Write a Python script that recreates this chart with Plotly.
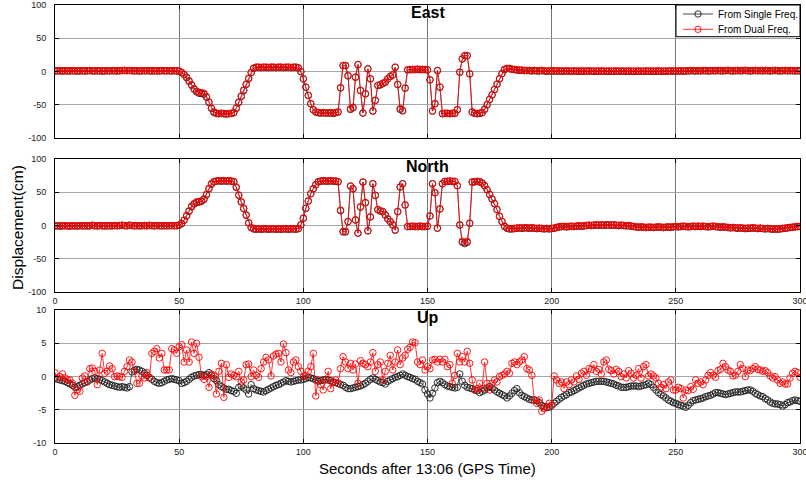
import plotly.graph_objects as go

# Time axis: one epoch per second after 13:06 GPS time
t = list(range(301))

# ---------------- East component (cm) ----------------
E_single = [
    0.5, 0.7, 0.6, 0.4, 0.8, 0.6, 0.5, 0.9, 0.6, 0.4,
    0.6, 0.8, 0.5, 0.7, 1.0, 0.6, 0.5, 0.8, 0.7, 0.4,
    0.5, 0.8, 0.6, 0.9, 0.7, 0.5, 0.8, 1.0, 1.2, 0.9,
    1.1, 0.8, 0.6, 0.8, 0.5, 0.7, 0.8, 0.9, 0.6, 0.5,
    0.8, 0.6, 0.5, 0.9, 0.7, 0.6, 0.8, 0.5, 0.9, 0.6,
    0.2, -2.0, -5.0, -9.5, -15.0, -21.0, -27.0, -31.0, -33.0, -33.5,
    -34.5, -39.0, -47.0, -56.0, -62.0, -63.5, -64.0, -63.5, -64.0, -64.5,
    -64.0, -63.5, -62.5, -56.0, -47.0, -38.0, -29.0, -20.0, -11.0, -2.0,
    4.5, 6.0, 6.0, 5.5, 6.0, 6.0, 5.5, 6.0, 6.0, 5.5,
    6.0, 6.0, 5.5, 6.0, 6.0, 5.5, 6.0, 6.0, 5.0, -0.5,
    -11.5, -24.0, -36.5, -49.0, -58.0, -61.5, -62.5, -63.0, -62.5, -63.0,
    -63.0, -62.5, -63.5, -62.5, -61.5, -25.0, 8.5, 8.5, -7.0, -57.5,
    -55.0, -9.0, 10.0, -29.0, -63.0, -34.0, 3.5, -11.5, -60.0, -44.0,
    -21.5, -20.5, -18.5, -16.5, -11.5, -8.0, -5.5, 6.0, -20.0, -57.5,
    -59.5, -25.5, 2.0, 2.5, 2.5, 2.5, 3.0, 2.5, 2.5, 2.5,
    2.0, -13.0, -60.0, -49.0, 1.0, -24.0, -64.0, -63.5, -63.5, -64.0,
    -63.5, -63.5, -58.0, -1.5, 18.5, 23.5, 23.5, -4.0, -61.5, -63.5,
    -64.0, -63.5, -62.5, -57.5, -50.5, -42.5, -35.5, -27.5, -19.5, -11.5,
    -3.5, 2.5, 4.0, 4.0, 3.0, 2.5, 2.0, 1.5, 1.5, 1.0,
    1.0, 1.0, 0.5, 1.0, 0.5, 0.5, 1.0, 0.5, 0.0, 0.5,
    0.3, 0.5, 0.2, 0.4, 0.1, 0.3, 0.5, 0.2, 0.1, 0.4,
    0.2, 0.0, 0.3, 0.1, 0.2, 0.4, 0.1, 0.0, 0.2, 0.1,
    0.3, 0.1, -0.1, 0.2, 0.0, 0.1, 0.3, 0.0, 0.2, 0.1,
    0.0, 0.2, 0.1, -0.1, 0.1, 0.2, 0.0, 0.1, 0.3, 0.1,
    0.2, 0.0, 0.1, 0.3, 0.1, 0.0, 0.2, 0.1, 0.4, 0.2,
    0.1, 0.3, 0.5, 0.2, 0.4, 0.6, 0.8, 0.6, 0.5, 0.7,
    0.6, 0.9, 0.7, 0.5, 0.6, 0.8, 0.6, 1.0, 0.7, 0.6,
    0.9, 1.1, 0.7, 0.5, 0.8, 1.0, 0.6, 0.9, 1.2, 0.7,
    0.5, 0.8, 1.1, 0.7, 0.9, 0.6, 1.0, 0.8, 0.5, 0.9,
    1.1, 0.7, 0.5, 0.8, 1.0, 0.6, 0.9, 0.7, 0.5, 0.8,
    0.6,
]
E_dual = [
    0.8, 1.0, 0.9, 0.7, 1.0, 0.8, 0.9, 1.1, 0.8, 0.7,
    0.9, 1.0, 0.8, 0.9, 1.2, 0.9, 0.8, 1.0, 0.9, 0.7,
    0.8, 1.0, 0.9, 1.1, 0.9, 0.8, 1.0, 1.3, 1.5, 1.2,
    1.4, 1.1, 0.9, 1.0, 0.8, 0.9, 1.0, 1.1, 0.9, 0.8,
    1.0, 0.9, 0.8, 1.1, 1.0, 0.9, 1.0, 0.8, 1.1, 0.9,
    0.5, -1.5, -4.5, -9.0, -14.0, -20.0, -26.0, -30.0, -31.5, -32.0,
    -33.0, -38.0, -46.0, -55.0, -61.0, -63.0, -63.5, -63.0, -63.5, -64.0,
    -63.5, -63.0, -62.0, -55.0, -46.0, -37.0, -28.0, -19.0, -10.0, -1.5,
    5.0, 6.5, 6.5, 6.0, 6.5, 6.5, 6.0, 6.5, 6.5, 6.0,
    6.5, 6.5, 6.0, 6.5, 6.5, 6.0, 6.5, 6.5, 5.5, 0.0,
    -11.0, -23.5, -36.0, -48.5, -57.5, -61.0, -62.0, -62.5, -62.0, -62.5,
    -62.5, -62.0, -63.0, -62.0, -61.0, -24.5, 9.0, 9.0, -6.0, -56.0,
    -54.0, -8.5, 10.5, -28.5, -62.5, -33.5, 4.0, -11.0, -59.5, -43.5,
    -21.0, -20.0, -18.0, -16.0, -11.0, -7.5, -5.0, 6.5, -19.5, -56.0,
    -59.0, -25.0, 2.5, 3.0, 3.0, 3.0, 3.5, 3.0, 3.0, 3.0,
    2.5, -12.5, -59.5, -48.5, 1.5, -23.5, -63.5, -63.0, -63.0, -63.5,
    -63.0, -63.0, -57.5, -1.0, 19.0, 24.0, 24.0, -3.5, -61.0, -63.0,
    -63.5, -63.0, -62.0, -57.0, -50.0, -42.0, -35.0, -27.0, -19.0, -11.0,
    -3.0, 3.0, 4.5, 4.5, 3.5, 3.0, 2.5, 2.0, 2.0, 1.5,
    1.5, 1.5, 1.0, 1.5, 1.0, 1.0, 1.5, 1.0, 0.5, 1.0,
    0.8, 1.0, 0.6, 0.8, 0.5, 0.7, 0.9, 0.6, 0.5, 0.8,
    0.6, 0.4, 0.7, 0.5, 0.6, 0.8, 0.5, 0.4, 0.6, 0.5,
    0.7, 0.5, 0.3, 0.6, 0.4, 0.5, 0.7, 0.4, 0.6, 0.5,
    0.4, 0.6, 0.5, 0.3, 0.5, 0.6, 0.4, 0.5, 0.7, 0.5,
    0.6, 0.4, 0.5, 0.7, 0.5, 0.4, 0.6, 0.5, 0.8, 0.6,
    0.5, 0.7, 0.9, 0.6, 0.8, 1.0, 1.3, 1.1, 0.9, 1.2,
    1.0, 1.4, 1.2, 0.9, 1.1, 1.3, 1.0, 1.5, 1.2, 1.1,
    1.4, 1.6, 1.2, 1.0, 1.3, 1.5, 1.1, 1.4, 1.7, 1.2,
    1.0, 1.3, 1.6, 1.2, 1.4, 1.1, 1.5, 1.3, 1.0, 1.4,
    1.6, 1.2, 1.0, 1.3, 1.5, 1.1, 1.4, 1.2, 1.0, 1.3,
    1.1,
]

# ---------------- North component (cm) ----------------
N_single = [
    -1.1, -0.8, -1.2, -0.9, -0.7, -1.0, -1.2, -0.8, -0.9, -1.1,
    -0.7, -0.9, -0.6, -1.0, -0.8, -0.1, -0.7, -0.9, -0.5, -0.8,
    -1.0, -0.6, -0.8, -0.9, -0.5, -0.7, -0.4, 0.0, -0.6, -0.8,
    0.1, -0.5, -0.8, -0.6, -0.9, -0.7, -0.5, -0.8, -0.1, -0.6,
    -0.8, -0.5, -0.7, -0.9, -0.6, -0.8, -0.7, -0.5, -0.8, -0.6,
    0.0, 2.5, 7.5, 14.0, 21.0, 28.0, 32.0, 34.5, 35.0, 36.0,
    39.0, 46.0, 55.0, 62.0, 65.5, 66.5, 67.0, 66.5, 67.0, 66.5,
    67.0, 66.5, 65.5, 57.0, 45.0, 35.0, 25.0, 15.0, 3.5, -3.5,
    -5.5, -6.0, -5.5, -6.0, -5.5, -5.5, -6.0, -5.5, -5.5, -6.0,
    -5.5, -6.0, -5.5, -5.5, -6.0, -5.5, -5.5, -6.0, -5.0, 0.5,
    10.5, 25.5, 36.5, 47.5, 55.0, 61.0, 65.5, 66.5, 67.0, 66.5,
    66.5, 67.0, 66.5, 66.5, 65.5, 22.0, -10.0, -10.0, 5.5, 59.0,
    55.0, 8.0, -12.0, 27.5, 65.0, 34.0, -8.5, 12.5, 62.5, 45.0,
    23.5, 21.5, 20.5, 15.5, 9.5, 5.5, 0.5, -7.5, 20.5, 57.5,
    62.5, 30.5, -2.0, -2.0, -1.5, -2.0, -2.0, -1.5, -2.0, -2.0,
    -1.5, 14.0, 62.5, 49.0, -4.5, 24.5, 62.5, 66.0, 66.0, 66.5,
    66.0, 66.0, 59.5, 0.5, -25.5, -27.5, -25.5, 3.0, 65.0, 65.5,
    66.0, 65.5, 63.5, 59.5, 53.5, 46.5, 39.5, 32.5, 23.5, 13.5,
    5.5, -1.5, -4.5, -5.5, -5.5, -5.0, -4.5, -4.0, -4.5, -4.0,
    -4.0, -4.5, -4.0, -4.5, -5.0, -4.5, -5.0, -5.5, -5.0, -5.5,
    -5.0, -4.5, -3.5, -2.5, -2.0, -2.0, -2.5, -2.0, -1.5, -2.0,
    -1.5, -1.0, -1.5, -1.0, -0.5, 0.0, -0.5, 0.0, 0.5, 0.0,
    0.5, 0.0, 0.5, 0.5, 0.0, 0.5, 0.0, -0.5, 0.0, -0.5,
    -1.0, -0.5, -1.5, -2.0, -2.5, -3.0, -2.5, -3.0, -3.5, -3.0,
    -3.0, -3.5, -3.0, -2.5, -3.0, -3.5, -3.0, -2.5, -3.0, -2.5,
    -2.0, -2.5, -2.0, -1.5, -2.0, -2.5, -2.0, -1.5, -2.0, -1.5,
    -2.0, -1.5, -2.0, -2.5, -2.0, -1.5, -2.0, -2.5, -3.0, -2.5,
    -3.0, -3.5, -4.0, -3.5, -4.0, -4.5, -4.0, -4.5, -5.0, -4.5,
    -4.5, -4.0, -4.5, -5.0, -4.5, -5.0, -5.5, -5.0, -5.5, -6.0,
    -5.5, -6.0, -5.5, -5.0, -4.5, -4.0, -3.5, -3.0, -2.5, -2.0,
    -2.0,
]
N_dual = [
    -0.8, -0.5, -0.9, -0.6, -0.4, -0.7, -0.9, -0.5, -0.6, -0.8,
    -0.4, -0.6, -0.3, -0.7, -0.5, 0.2, -0.4, -0.6, -0.2, -0.5,
    -0.7, -0.3, -0.5, -0.6, -0.2, -0.4, -0.1, 0.3, -0.3, -0.5,
    0.4, -0.2, -0.5, -0.3, -0.6, -0.4, -0.2, -0.5, 0.2, -0.3,
    -0.5, -0.2, -0.4, -0.6, -0.3, -0.5, -0.4, -0.2, -0.5, -0.3,
    0.5, 3.0, 8.0, 15.0, 22.0, 29.0, 33.0, 35.5, 36.0, 37.0,
    40.0, 47.0, 56.0, 63.0, 66.0, 67.0, 67.5, 67.0, 67.5, 67.0,
    67.5, 67.0, 66.0, 58.0, 46.0, 36.0, 26.0, 16.0, 4.0, -3.0,
    -5.0, -5.5, -5.0, -5.5, -5.0, -5.0, -5.5, -5.0, -5.0, -5.5,
    -5.0, -5.5, -5.0, -5.0, -5.5, -5.0, -5.0, -5.5, -4.5, 1.0,
    11.0, 26.0, 37.0, 48.0, 55.5, 61.5, 66.0, 67.0, 67.5, 67.0,
    67.0, 67.5, 67.0, 67.0, 66.0, 23.0, -9.0, -9.0, 6.0, 59.5,
    55.5, 8.5, -11.5, 28.0, 65.5, 34.5, -8.0, 13.0, 63.0, 45.5,
    24.0, 22.0, 21.0, 16.0, 10.0, 6.0, 1.0, -6.5, 21.0, 58.0,
    63.0, 31.0, -1.5, -1.5, -1.0, -1.5, -1.5, -1.0, -1.5, -1.5,
    -1.0, 14.5, 63.0, 49.5, -4.0, 25.0, 63.0, 66.5, 66.5, 67.0,
    66.5, 66.5, 60.0, 1.0, -24.0, -26.0, -24.0, 3.5, 65.5, 66.0,
    66.5, 66.0, 64.0, 60.0, 54.0, 47.0, 40.0, 33.0, 24.0, 14.0,
    6.0, -1.0, -4.0, -5.0, -5.0, -4.5, -4.0, -3.5, -4.0, -3.5,
    -3.5, -4.0, -3.5, -4.0, -4.5, -4.0, -4.5, -5.0, -4.5, -5.0,
    -4.5, -4.0, -3.0, -2.0, -1.5, -1.5, -2.0, -1.5, -1.0, -1.5,
    -1.0, -0.5, -1.0, -0.5, 0.0, 0.5, 0.0, 0.5, 1.0, 0.5,
    1.0, 0.5, 1.0, 1.0, 0.5, 1.0, 0.5, 0.0, 0.5, 0.0,
    -0.5, 0.0, -1.0, -1.5, -2.0, -2.5, -2.0, -2.5, -3.0, -2.5,
    -2.5, -3.0, -2.5, -2.0, -2.5, -3.0, -2.5, -2.0, -2.5, -2.0,
    -1.5, -2.0, -1.5, -1.0, -1.5, -2.0, -1.5, -1.0, -1.5, -1.0,
    -1.5, -1.0, -1.5, -2.0, -1.5, -1.0, -1.5, -2.0, -2.5, -2.0,
    -2.5, -3.0, -3.5, -3.0, -3.5, -4.0, -3.5, -4.0, -4.5, -4.0,
    -4.0, -3.5, -4.0, -4.5, -4.0, -4.5, -5.0, -4.5, -5.0, -5.5,
    -5.0, -5.5, -5.0, -4.5, -4.0, -3.5, -3.0, -2.5, -2.0, -1.5,
    -1.5,
]

# ---------------- Up component (cm) ----------------
U_single = [
    -0.2, -0.4, -0.5, -0.6, -0.7, -0.9, -1.1, -1.3, -1.6, -1.5,
    -1.3, -1.1, -0.9, -0.7, -0.5, -0.3, -0.2, -0.3, -0.4, -0.6,
    -0.8, -1.0, -1.2, -1.3, -1.4, -1.5, -1.6, -1.5, -1.6, -1.7,
    -1.5, 0.7, 1.0, 1.1, 1.0, 0.8, 0.5, 0.2, -0.1, -0.4,
    -0.7, -0.9, -1.0, -0.9, -0.7, -0.5, -0.4, -0.3, -0.4, -0.5,
    -0.6, -1.0, -0.9, -0.7, -0.4, -0.1, 0.1, 0.2, 0.3, 0.3,
    0.2, 0.3, 0.6, 0.2, -0.3, -0.6, -1.2, -1.5, -1.7, -1.9,
    -1.9, -2.1, -2.2, -2.5, -1.6, -1.4, -1.7, -2.0, -2.6, -1.2,
    -1.8, -2.0, -2.1, -2.2, -2.3, -2.1, -1.9, -1.7, -1.5, -1.3,
    -1.2, -1.0, -0.8, -0.6, -0.7, -0.8, -0.7, -0.6, -0.5, -0.5,
    -0.4, -0.3, -0.1, -0.2, -0.3, -0.5, -0.7, -0.6, -0.5, -0.4,
    -0.5, -0.6, -0.8, -0.9, -1.0, -1.2, -1.3, -1.6, -1.8, -1.8,
    -1.7, -1.6, -1.5, -1.4, -1.2, -1.0, -0.7, -0.4, -0.2, -0.4,
    -0.6, -0.8, -0.9, -1.1, -0.7, -0.5, -0.3, -0.1, 0.0, 0.2,
    0.4, 0.2, 0.0, -0.1, -0.3, -0.4, -0.7, -0.9, -1.1, -2.0,
    -2.6, -3.2, -2.5, -1.7, -0.9, -0.7, -0.9, -1.2, -1.4, -1.5,
    -1.6, -1.7, -1.6, 0.4, -0.7, -1.3, -1.6, -1.7, -1.8, -2.0,
    -2.1, -2.4, -2.2, -2.0, -1.7, -1.5, -1.7, -2.0, -2.3, -2.5,
    -2.7, -2.9, -3.2, -2.9, -2.5, -2.1, -1.8, -2.4, -2.8, -3.0,
    -3.2, -3.4, -3.5, -3.5, -3.6, -3.9, -4.3, -4.5, -4.6, -4.6,
    -4.3, -4.0, -3.7, -3.4, -3.1, -2.9, -2.7, -2.4, -2.3, -2.1,
    -1.9, -1.7, -1.5, -1.3, -1.1, -1.0, -0.9, -0.8, -0.7, -0.7,
    -0.7, -0.7, -0.8, -0.9, -1.0, -1.1, -1.3, -1.4, -1.6, -1.6,
    -1.6, -1.5, -1.4, -1.4, -1.4, -1.5, -1.4, -1.3, -1.2, -1.0,
    -1.2, -1.6, -2.0, -2.4, -2.7, -2.9, -3.2, -3.5, -3.7, -3.9,
    -4.0, -4.2, -4.3, -4.4, -4.6, -4.3, -3.9, -3.6, -3.5, -3.4,
    -3.3, -3.2, -3.0, -2.9, -2.8, -2.6, -2.4, -2.4, -2.5, -2.6,
    -2.7, -2.6, -2.5, -2.4, -2.3, -2.3, -2.3, -2.2, -2.1, -2.0,
    -2.0, -2.2, -2.5, -2.7, -2.9, -3.0, -3.3, -3.5, -3.8, -4.0,
    -4.1, -4.1, -4.2, -4.4, -4.2, -3.9, -3.8, -3.6, -3.5, -3.6,
    -3.7,
]
U_dual = [
    0.6, -0.2, 0.0, 0.4, -0.2, -0.5, -0.5, -1.0, -2.8, -2.0,
    -2.2, -0.2, 0.1, -0.8, 1.2, 1.3, 0.8, -1.2, 1.0, 3.5,
    0.5, 0.8, 1.6, 1.2, 0.0, 0.1, 0.0, -0.1, 0.8, 1.5,
    2.5, 2.2, 0.8, -1.0, -1.0, 0.1, -0.2, 0.6, -0.2, 3.5,
    3.8, 4.2, 2.8, 3.5, 1.0, 1.0, 1.0, 4.2, 4.0, 3.5,
    4.5, 4.8, 2.2, 4.0, 2.2, 5.2, 3.5, 5.0, 2.9, 0.0,
    -0.4, 0.0, -1.6, 0.4, 0.1, -2.6, 0.8, 2.0, -3.1, 1.8,
    -0.1, 0.4, 0.2, 0.0, 0.8, -0.8, -0.5, 1.8, 1.9, 0.0,
    1.0, 0.2, -0.1, 1.2, 2.2, 2.9, 2.5, 0.1, 3.1, 3.4,
    3.5, 2.2, 4.9, 3.6, 1.0, 0.6, 2.2, 2.5, 1.5, 0.8,
    0.0, 0.2, 0.8, 1.5, 3.5, -2.9, -0.5, -1.2, -2.0, -0.5,
    0.8, -1.8, -0.8, -0.5, -1.0, 1.2, 3.0, 2.2, 1.2, 2.0,
    1.0, 1.9, -1.0, 2.4, 2.0, 1.8, 1.5, 2.2, 3.6, 0.8,
    1.8, 2.2, -0.5, 0.8, 2.0, 3.2, 1.0, 2.2, 4.0, 1.8,
    2.8, 3.2, 4.1, 4.4, 5.2, 5.1, 2.2, 1.8, 2.5, 1.0,
    1.5, 1.2, 2.5, 2.6, 2.2, 2.6, 2.2, 2.6, 1.5, 1.8,
    -1.0, 0.2, 3.5, 2.2, 3.0, 2.2, 3.8, 2.0, -0.5, -2.0,
    -1.8, -1.0, -1.8, 2.2, -1.0, -2.0, -1.0, -0.5, -0.8, 0.0,
    0.2, 0.4, 0.8, 0.5, 2.0, 2.2, 1.8, 2.2, 2.5, 3.0,
    1.2, 1.0, 0.2, -3.5, -4.0, -3.5, -5.2, -4.8, -4.5, -4.0,
    -4.3, 0.1, -0.5, -1.0, -0.8, -1.8, -0.8, -1.2, -0.5, -0.8,
    0.1, -0.4, 0.5, 0.8, 0.2, 1.2, 1.1, 1.8, 0.8, 1.1,
    0.4, 2.2, 2.5, 1.1, 0.9, 0.4, 1.1, 0.8, 0.0, 0.4,
    -0.2, 0.9, 0.5, -0.2, 0.2, 1.2, -0.2, 1.5, 1.8, 0.1,
    0.4, 0.1, -0.2, -1.0, -1.6, -1.2, -1.8, -0.8, -0.5, -2.0,
    -2.0, -1.6, -1.8, -3.2, -2.0, -2.1, -1.5, -1.9, -0.5, -1.0,
    -0.8, -1.2, -0.5, 0.2, 0.6, 0.2, -0.1, 0.9, 1.1, 2.0,
    1.5, 1.0, 0.8, 0.1, 0.2, 0.8, 1.8, 1.2, 0.0, 1.0,
    0.9, 1.2, 1.5, 1.1, 1.0, 0.8, 0.9, 0.6, 0.1, -0.2,
    0.0, -0.5, -1.0, -0.8, -1.1, -1.1, -0.2, 0.5, 0.8, 0.6,
    -0.1,
]

# Panel titles, axis tick values and labels
panel_titles = ["East", "North", "Up"]
x_ticks = [0, 50, 100, 150, 200, 250, 300]
en_ticks = [-100, -50, 0, 50, 100]
up_ticks = [-10, -5, 0, 5, 10]
series_names = ["From Single Freq.", "From Dual Freq."]
x_title = "Seconds after 13:06 (GPS Time)"
y_title = "Displacement(cm)"

W, H = 806, 485
FONT = "Liberation Sans, Arial, Helvetica, sans-serif"

x_dom = [55 / W, 800 / W]
y_doms = [
    [1 - 137.7 / H, 1 - 5 / H],
    [1 - 291.7 / H, 1 - 159 / H],
    [1 - 443.3 / H, 1 - 310 / H],
]

SINGLE_C = "#1a1a1a"
DUAL_C = "#ff0000"
series_colors = [SINGLE_C, DUAL_C]

fig = go.Figure()

panels = [
    (E_single, E_dual, en_ticks),
    (N_single, N_dual, en_ticks),
    (U_single, U_dual, up_ticks),
]

for i, (single, dual, yt) in enumerate(panels):
    sfx = "" if i == 0 else str(i + 1)
    for name, vals, col, lw in ((series_names[0], single, SINGLE_C, 0.7),
                                (series_names[1], dual, DUAL_C, 0.8)):
        fig.add_trace(go.Scatter(
            x=t, y=vals, name=name,
            xaxis="x" + sfx, yaxis="y" + sfx,
            mode="lines+markers",
            line=dict(color=col, width=lw),
            marker=dict(symbol="circle-open", size=6.5, color=col,
                        line=dict(color=col, width=0.9)),
            showlegend=False,
        ))

    axis_common = dict(
        ticks="inside", ticklen=4, tickwidth=1, tickcolor="black",
        showline=True, linecolor="black", linewidth=1, mirror="ticks",
        zeroline=False, showgrid=True, automargin=False,
        tickfont=dict(family=FONT, size=9, color="#222"),
    )
    fig.layout["xaxis" + sfx] = dict(
        axis_common, domain=x_dom, range=[0, 300], tickvals=x_ticks,
        ticktext=[str(v) for v in x_ticks], ticklabeloverflow="allow",
        showticklabels=(i > 0), gridcolor="#777", gridwidth=1,
        anchor="y" + sfx,
    )
    fig.layout["yaxis" + sfx] = dict(
        axis_common, domain=y_doms[i], range=[yt[0], yt[-1]], tickvals=yt,
        ticktext=[str(v) for v in yt], gridcolor="#a6a6a6", gridwidth=1.2,
        anchor="x" + sfx, ticklabelstandoff=6,
    )
    fig.add_annotation(
        text="<b>%s</b>" % panel_titles[i], xref="x" + sfx, x=150,
        yref="paper", y=y_doms[i][1], yanchor="top", yshift=3,
        showarrow=False, font=dict(family=FONT, size=16, color="black"),
    )

fig.add_annotation(
    text=y_title, textangle=-90, xref="paper", yref="paper",
    x=17 / W, y=1 - 228 / H, xanchor="center", yanchor="middle",
    showarrow=False, font=dict(family=FONT, size=15.5, color="black"),
)
fig.add_annotation(
    text=x_title, xref="paper", yref="paper",
    x=(55 + 800) / 2 / W, y=1 - 468 / H, xanchor="center", yanchor="middle",
    showarrow=False, font=dict(family=FONT, size=15, color="black"),
)

# Legend box (top-right of the East panel)
def px(xp):
    return xp / W


def py(yp):
    return 1 - yp / H


fig.add_shape(type="rect", xref="paper", yref="paper",
              x0=px(676), x1=px(800), y0=py(36.7), y1=py(5),
              line=dict(color="black", width=1), fillcolor="white",
              layer="above")
for row, (name, col) in enumerate(zip(series_names, series_colors)):
    yc = 14 + row * 15.3
    fig.add_shape(type="line", xref="paper", yref="paper",
                  x0=px(683), x1=px(713), y0=py(yc), y1=py(yc),
                  line=dict(color=col, width=0.8), layer="above")
    fig.add_shape(type="circle", xref="paper", yref="paper",
                  x0=px(698 - 3.2), x1=px(698 + 3.2),
                  y0=py(yc + 3.2), y1=py(yc - 3.2),
                  line=dict(color=col, width=0.9), fillcolor="rgba(0,0,0,0)",
                  layer="above")
    fig.add_annotation(text=name, xref="paper", yref="paper",
                       x=px(716), y=py(yc), xanchor="left", yanchor="middle",
                       showarrow=False,
                       font=dict(family=FONT, size=10, color="black"))

fig.update_layout(
    width=W, height=H,
    margin=dict(l=0, r=0, t=0, b=0, autoexpand=False),
    paper_bgcolor="white", plot_bgcolor="white",
    showlegend=False,
)

fig.write_html("out.html")
